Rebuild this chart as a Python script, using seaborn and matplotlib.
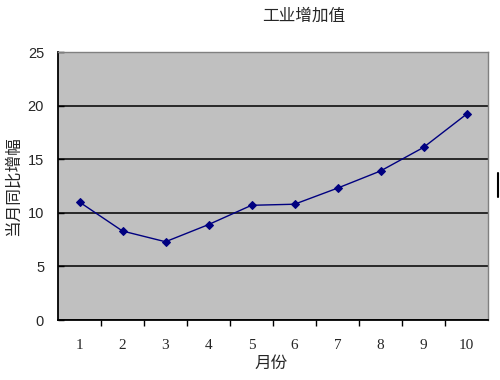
import matplotlib
matplotlib.use("Agg")
import matplotlib.pyplot as plt
import seaborn as sns
import pandas as pd
from matplotlib.ticker import FixedLocator
from matplotlib.lines import Line2D

months = [1, 2, 3, 4, 5, 6, 7, 8, 9, 10]
growth = [11.0, 8.3, 7.3, 8.9, 10.7, 10.8, 12.3, 13.9, 16.1, 19.2]
title = "工业增加值"
xlabel = "月份"
ylabel = "当月同比增幅"

sns.set_theme(style="white")
plt.rcParams['font.family'] = ['Noto Sans CJK SC', 'DejaVu Sans']

df = pd.DataFrame({"month": months, "growth": growth})

fig = plt.figure(figsize=(5, 3.8), dpi=100)
ax = fig.add_axes([58/500, 60/380, 430/500, 268/380])
ax.set_facecolor("#C0C0C0")

sns.lineplot(data=df, x="month", y="growth", ax=ax, color="#000080",
             marker="D", markersize=4, markeredgecolor="#000080",
             linewidth=1, zorder=3)

ax.set_xlim(0.5, 10.5)
ax.set_ylim(0, 25)
ax.set_yticks([0, 5, 10, 15, 20, 25])
ax.yaxis.grid(True, color="black", linewidth=1.1)
ax.set_axisbelow(True)

ax.set_xticks(months)
ax.set_xticklabels([str(m) for m in months], family="Liberation Serif", fontsize=11)
ax.xaxis.set_minor_locator(FixedLocator([m + 0.5 for m in months[:-1]]))
ax.tick_params(axis="x", which="major", length=0, pad=14)
ax.tick_params(axis="x", which="minor", length=4, width=1, color="black", direction="out", bottom=True)
ax.tick_params(axis="y", which="major", length=4, width=1, color="black", direction="in", left=True, pad=10)
for lab in ax.get_yticklabels():
    lab.set_family("Liberation Sans")
    lab.set_fontsize(10.5)

for s in ["left", "bottom"]:
    ax.spines[s].set_color("black")
    ax.spines[s].set_linewidth(1.3)
for s in ["top", "right"]:
    ax.spines[s].set_color("#808080")
    ax.spines[s].set_linewidth(1)

ax.set_xlabel(xlabel, fontsize=12)
ax.xaxis.set_label_coords((271 - 58) / 430, -(355 - 320) / 268)
ax.set_ylabel(ylabel, fontsize=12)
ax.yaxis.set_label_coords(-(58 - 22) / 430, (320 - 186) / 268)
fig.text(304/500, 1 - 16/380, title, ha="center", va="center", fontsize=12)

fig.add_artist(Line2D([498/500, 498/500], [1 - 173/380, 1 - 197/380],
                      color="black", linewidth=1.5, transform=fig.transFigure))

fig.savefig("out.png", dpi=100)
